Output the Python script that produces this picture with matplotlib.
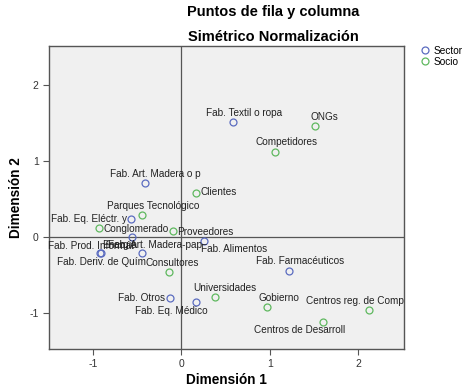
import matplotlib
matplotlib.use("Agg")
import matplotlib.pyplot as plt

# ---- data ----
sector_labels = ["Fab. Textil o ropa", "Fab. Art. Madera o p", "Fab. Eq. Eléctr. y",
                 "Energía", "Fab. Deriv. de Quím", "Fab. Prod. Informát",
                 "Fab. Art. Madera-pap", "Fab. Alimentos", "Fab. Farmacéuticos",
                 "Fab. Otros", "Fab. Eq. Médico"]
sector_x = [0.58, -0.41, -0.57, -0.56, -0.92, -0.91, -0.45, 0.26, 1.22, -0.13, 0.17]
sector_y = [1.51, 0.71, 0.23, -0.01, -0.22, -0.21, -0.22, -0.06, -0.45, -0.81, -0.86]

socio_labels = ["Parques Tecnológico", "Conglomerado", "Proveedores", "Clientes",
                "ONGs", "Competidores", "Consultores", "Universidades", "Gobierno",
                "Centros reg. de Comp", "Centros de Desarroll"]
socio_x = [-0.45, -0.93, -0.10, 0.16, 1.51, 1.06, -0.14, 0.38, 0.97, 2.12, 1.60]
socio_y = [0.29, 0.11, 0.07, 0.58, 1.46, 1.12, -0.46, -0.80, -0.93, -0.96, -1.12]

x_ticks = [-1, 0, 1, 2]
y_ticks = [-1, 0, 1, 2]

# label placement (offset in pixels, horizontal alignment)
sector_pos = [(11, 9, "center"), (10, 9, "center"), (-4, 0, "right"),
              (-12, -8, "center"), (1, -9, "center"), (-53, 7, "left"),
              (13, 8, "center"), (-3, -8, "left"), (11, 10, "center"),
              (-5, 0, "right"), (-25, -9, "center")]
socio_pos = [(11, 9, "center"), (4, -1, "left"), (4, -1, "left"), (5, 1, "left"),
             (10, 9, "center"), (11, 10, "center"), (3, 9, "center"),
             (10, 9, "center"), (12, 9, "center"), (35, 9, "right"),
             (-23, -8, "center")]

plt.rcParams["font.family"] = ["Liberation Sans", "DejaVu Sans"]
plt.rcParams["axes.unicode_minus"] = False

fig = plt.figure(figsize=(4.74, 3.92), dpi=100)
ax = fig.add_axes([49/474, 1-349/392, (404-49)/474, (349-46)/392])
ax.set_facecolor("#f0f0f0")

blue = "#5b6cc0"
green = "#5fb85f"

ax.axhline(0, color="#555555", lw=0.9, zorder=1)
ax.axvline(0, color="#555555", lw=0.9, zorder=1)

ax.plot(sector_x, sector_y, "o", mfc="none", mec=blue, ms=5, mew=0.9,
        label="Sector", zorder=3)
ax.plot(socio_x, socio_y, "o", mfc="none", mec=green, ms=5, mew=0.9,
        label="Socio", zorder=3)

for lab, x, y, (dx, dy, ha) in zip(sector_labels, sector_x, sector_y, sector_pos):
    ax.annotate(lab, (x, y), xytext=(dx, dy), textcoords="offset pixels",
                ha=ha, va="center", fontsize=7.2, color="#222222", zorder=4)
for lab, x, y, (dx, dy, ha) in zip(socio_labels, socio_x, socio_y, socio_pos):
    ax.annotate(lab, (x, y), xytext=(dx, dy), textcoords="offset pixels",
                ha=ha, va="center", fontsize=7.2, color="#222222", zorder=4)

ax.set_xlim(-1.5, 2.52)
ax.set_ylim(-1.48, 2.51)
ax.set_xticks(x_ticks)
ax.set_yticks(y_ticks)
ax.tick_params(direction="out", length=4, width=0.8, colors="#555555",
               labelsize=7.5, labelcolor="#333333")
for s in ax.spines.values():
    s.set_color("#555555")
    s.set_linewidth(1.0)

ax.set_xlabel("Dimensión 1", fontsize=9.8, fontweight="bold", va="center")
ax.set_ylabel("Dimensión 2", fontsize=9.8, fontweight="bold", va="center")
ax.xaxis.set_label_coords(0.5, (349-380)/303)
ax.yaxis.set_label_coords((16-49)/355, 0.5)

fig.text(273/474, 1-12/392, "Puntos de fila y columna", ha="center", va="center",
         fontsize=10.5, fontweight="bold")
fig.text(273/474, 1-37/392, "Simétrico Normalización", ha="center", va="center",
         fontsize=10.5, fontweight="bold")

fig.legend(loc="upper left", bbox_to_anchor=(421/474, 1-46/392), frameon=False,
           fontsize=7.3, handlelength=0.8, handletextpad=0.4, labelspacing=0.1,
           borderaxespad=0, borderpad=0)

fig.savefig("out.png", dpi=100)
